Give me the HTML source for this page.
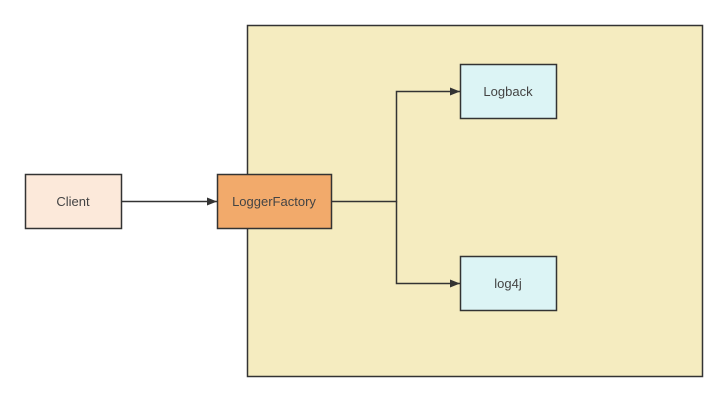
<!DOCTYPE html>
<html><head><style>body{margin:0;background:#fff}</style></head><body>
<svg width="727" height="401" xmlns="http://www.w3.org/2000/svg" font-family="'Liberation Sans',sans-serif" font-size="13" fill="#333">
<defs><marker id="a" markerWidth="10" markerHeight="8" refX="10" refY="4" orient="auto" markerUnits="userSpaceOnUse"><path d="M0,0L10,4L0,8z" fill="#333"/></marker></defs>
<rect x="247.5" y="25.5" width="455" height="351" fill="#f5ecc0" stroke="#333" stroke-width="1.5"/>
<rect x="25.5" y="174.5" width="96" height="54" fill="#fce9da" stroke="#333" stroke-width="1.5"/>
<rect x="217.5" y="174.5" width="114" height="54" fill="#f2aa6b" stroke="#333" stroke-width="1.5"/>
<rect x="460.5" y="64.5" width="96" height="54" fill="#dcf4f5" stroke="#333" stroke-width="1.5"/>
<rect x="460.5" y="256.5" width="96" height="54" fill="#dcf4f5" stroke="#333" stroke-width="1.5"/>
<g fill="none" stroke="#333" stroke-width="1.5">
<path d="M121.5,201.5H217" marker-end="url(#a)"/>
<path d="M331.5,201.5H396.5V91.5H460" marker-end="url(#a)"/>
<path d="M396.5,201.5V283.5H460" marker-end="url(#a)"/>
</g>
<g text-anchor="middle" fill="#444">
<text x="73" y="206">Client</text>
<text x="274" y="206">LoggerFactory</text>
<text x="508" y="96">Logback</text>
<text x="508" y="288">log4j</text>
</g>
</svg>
</body></html>
